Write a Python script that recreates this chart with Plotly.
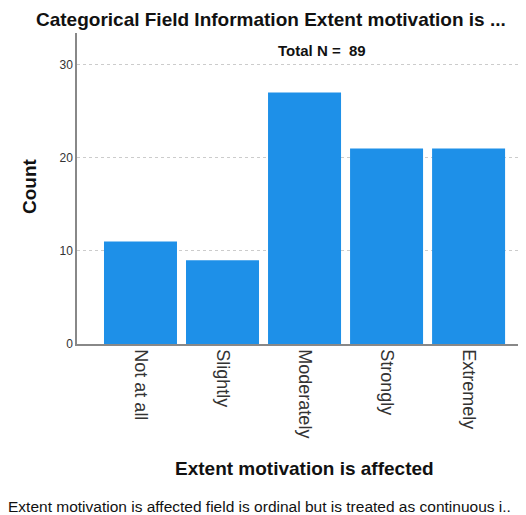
import plotly.graph_objects as go

categories = ["Not at all", "Slightly", "Moderately", "Strongly", "Extremely"]
counts = [11, 9, 27, 21, 21]
y_ticks = [0, 10, 20, 30]

FONT = "Liberation Sans, Arial, sans-serif"

# page body has an 8px margin, so figure is 8px smaller and shifted
PLOT_L, PLOT_T, PLOT_B = 77, 33, 344
PW, PH = 526 - PLOT_L, PLOT_B - PLOT_T

def px(x):
    return (x - PLOT_L) / PW

def py(y):
    return (PLOT_B - y) / PH

fig = go.Figure(go.Bar(
    x=list(range(len(categories))), y=counts,
    marker=dict(color="rgb(30,144,232)", line=dict(width=0)),
    width=0.89,
))

fig.update_layout(
    width=518, height=507,
    margin=dict(l=PLOT_L - 8, r=0, t=PLOT_T - 8, b=515 - PLOT_B),
    paper_bgcolor="white", plot_bgcolor="white",
    showlegend=False,
    font=dict(family=FONT, color="#222"),
    xaxis=dict(
        range=[-0.774, 4.70],
        tickmode="array", tickvals=list(range(len(categories))), ticktext=categories,
        tickangle=90, tickfont=dict(size=18, color="#333"),
        showgrid=False, zeroline=False,
        showline=True, linecolor="#888", linewidth=1.5,
        ticks="", ticklen=0,
        automargin=False,
    ),
    yaxis=dict(
        range=[0, 33.4],
        tickmode="array", tickvals=y_ticks,
        tickfont=dict(size=12, color="#333"),
        showgrid=True, gridcolor="#cccccc", griddash="3px,3px", gridwidth=1,
        zeroline=False,
        showline=True, linecolor="#888", linewidth=1.5,
        ticks="", ticklen=0,
        automargin=False,
    ),
)

fig.add_annotation(text="<b>Categorical Field Information Extent motivation is ...</b>",
                   xref="paper", yref="paper", x=px(271), y=py(19),
                   xanchor="center", yanchor="middle", showarrow=False,
                   font=dict(size=19, color="#111", family=FONT))
fig.add_annotation(text="<b>Total N =  89</b>",
                   xref="paper", yref="paper", x=px(322), y=py(50),
                   xanchor="center", yanchor="middle", showarrow=False,
                   font=dict(size=15, color="#111", family=FONT))
fig.add_annotation(text="<b>Count</b>",
                   xref="paper", yref="paper", x=px(29), y=py(186),
                   xanchor="center", yanchor="middle", showarrow=False, textangle=-90,
                   font=dict(size=19, color="#111", family=FONT))
fig.add_annotation(text="<b>Extent motivation is affected</b>",
                   xref="paper", yref="paper", x=px(304), y=py(468),
                   xanchor="center", yanchor="middle", showarrow=False,
                   font=dict(size=19, color="#111", family=FONT))
fig.add_annotation(text="Extent motivation is affected field is ordinal but is treated as continuous i..",
                   xref="paper", yref="paper", x=px(6), y=py(507),
                   xanchor="left", yanchor="middle", showarrow=False,
                   font=dict(size=15.5, color="#111", family=FONT))

fig.write_html("out.html")
